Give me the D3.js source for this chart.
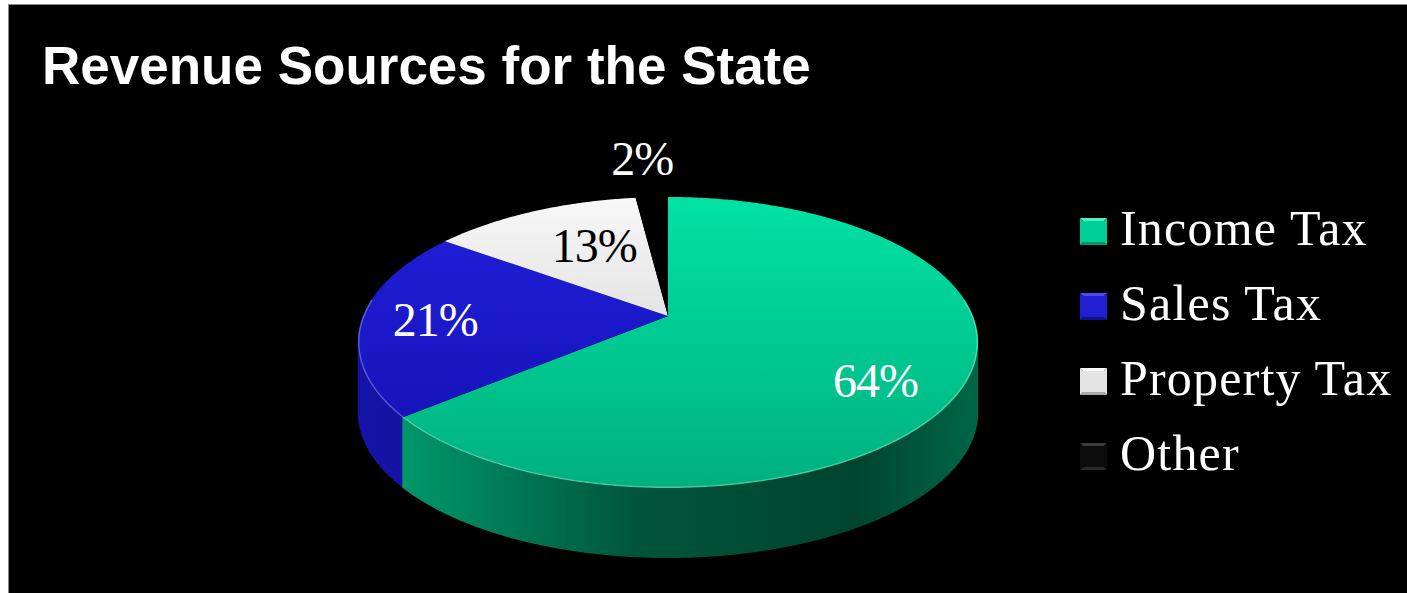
<!DOCTYPE html>
<html>
<head>
<meta charset="utf-8">
<script src="https://cdn.jsdelivr.net/npm/d3@7"></script>
<style>
  html, body { margin: 0; padding: 0; background: #fff; }
  svg { display: block; }
</style>
</head>
<body>
<div id="chart"></div>
<script>
// Revenue sources - 3D pie drawn with d3.pie + a small perspective projection

const categories = ["Income Tax", "Sales Tax", "Property Tax", "Other"];
const shares = [64, 21, 13, 2];
const labelTexts = ["64%", "21%", "13%", "2%"];

const width = 1407, height = 593;

// look of each slice: top face gradient, side gradient
const palette = [
    { top: ["#00e3a4", "#00b07e"], side: ["#00a474", "#00553c", "#00442f", "#006648"], text: "#fff" },
    { top: ["#2020dc", "#1410b2"], side: ["#1614a8", "#0e0e86", "#0c0c70", "#10108c"], text: "#fff" },
    { top: ["#f8f8f8", "#c6c6c6"], side: ["#bdbdbd", "#8a8a8a", "#707070", "#8a8a8a"], text: "#000" },
    { top: ["#000000", "#000000"], side: ["#000", "#000", "#000", "#000"], text: "#fff" }
];

// projection of the tilted disc
const cx = 668, cy = 316, A = 305, B = 140.7, K = 0.182, depth = 70;
function proj(t, f, dz) {
    const x = f * Math.sin(t), z = -f * Math.cos(t);
    const d = 1 - K * z;
    return [cx + A * x / d, cy + B * z / d + (dz || 0)];
}

// label placement along the slice mid angle (radius factor, nudges)
const labelLayout = [
    { f: 0.72, dx: -3, dy: 19 },
    { f: 0.76, dx: 0, dy: 0 },
    { f: 0.52, dx: 1, dy: -12 },
    { f: 1.35, dx: -5, dy: -5 }
];

const svg = d3.select("#chart").append("svg")
    .attr("width", width)
    .attr("height", height);

const defs = svg.append("defs");

svg.append("rect")
    .attr("x", 8.5).attr("y", 4.5)
    .attr("width", width - 8).attr("height", height - 4)
    .attr("fill", "#000")
    .attr("stroke", "#8a8a8a");

svg.append("text")
    .attr("x", 42).attr("y", 84)
    .attr("fill", "#fff")
    .style("font-family", "'Liberation Sans', Arial, sans-serif")
    .style("font-weight", "bold")
    .style("font-size", "53px")
    .text("Revenue Sources for the State");

const pie = d3.pie().sort(null).startAngle(0).endAngle(2 * Math.PI);
const arcs = pie(shares);

// gradients
palette.forEach((p, i) => {
    const gt = defs.append("linearGradient")
        .attr("id", "top" + i)
        .attr("gradientUnits", "userSpaceOnUse")
        .attr("x1", 0).attr("y1", 196).attr("x2", 0).attr("y2", 490);
    gt.append("stop").attr("offset", "0%").attr("stop-color", p.top[0]);
    gt.append("stop").attr("offset", "100%").attr("stop-color", p.top[1]);

    const gs = defs.append("linearGradient")
        .attr("id", "side" + i)
        .attr("gradientUnits", "userSpaceOnUse")
        .attr("x1", 358).attr("y1", 0).attr("x2", 978).attr("y2", 0);
    gs.append("stop").attr("offset", "0%").attr("stop-color", p.side[0]);
    gs.append("stop").attr("offset", "45%").attr("stop-color", p.side[1]);
    gs.append("stop").attr("offset", "80%").attr("stop-color", p.side[2]);
    gs.append("stop").attr("offset", "100%").attr("stop-color", p.side[3]);
});

const line = d3.line();

function arcPoints(a0, a1, f, dz) {
    const n = Math.max(2, Math.ceil((a1 - a0) / 0.01));
    return d3.range(n + 1).map(j => proj(a0 + (a1 - a0) * j / n, f, dz));
}

// visible front band of the side wall
const frontStart = Math.acos(-K);
const frontEnd = 2 * Math.PI - frontStart;

const sides = svg.append("g");
arcs.forEach((a, i) => {
    const s0 = Math.max(a.startAngle, frontStart);
    const s1 = Math.min(a.endAngle, frontEnd);
    if (s1 <= s0) return;
    const topEdge = arcPoints(s0, s1, 1, 0);
    const botEdge = arcPoints(s0, s1, 1, depth).reverse();
    sides.append("path")
        .attr("d", line(topEdge.concat(botEdge)) + "Z")
        .attr("fill", `url(#side${i})`);
});

const tops = svg.append("g");
arcs.forEach((a, i) => {
    const pts = [[cx, cy]].concat(arcPoints(a.startAngle, a.endAngle, 1, 0));
    tops.append("path")
        .attr("d", line(pts) + "Z")
        .attr("fill", `url(#top${i})`);
});

// soft highlight on the front rim
arcs.forEach((a, i) => {
    if (i === 3) return;
    const s0 = Math.max(a.startAngle, frontStart - 0.3);
    const s1 = Math.min(a.endAngle, frontEnd + 0.3);
    if (s1 <= s0) return;
    tops.append("path")
        .attr("d", line(arcPoints(s0, s1, 0.997, 0)))
        .attr("fill", "none")
        .attr("stroke", "rgba(255,255,255,0.28)")
        .attr("stroke-width", 1.5);
});

// data labels
const labelFont = "'Palatino Linotype', 'Book Antiqua', Palatino, 'Liberation Serif', serif";
svg.append("g").selectAll("text")
    .data(arcs)
    .join("text")
    .attr("x", (d, i) => proj((d.startAngle + d.endAngle) / 2, labelLayout[i].f)[0] + labelLayout[i].dx)
    .attr("y", (d, i) => proj((d.startAngle + d.endAngle) / 2, labelLayout[i].f)[1] + labelLayout[i].dy)
    .attr("dy", "0.34em")
    .attr("text-anchor", "middle")
    .attr("fill", (d, i) => palette[i].text)
    .style("font-family", labelFont)
    .style("font-size", "48px")
    .style("letter-spacing", "-1px")
    .text((d, i) => labelTexts[i]);

// legend
const markerColors = [
    { top: "#4ff0c0", mid: "#00d097", bot: "#009a6c" },
    { top: "#4a4af0", mid: "#2020d0", bot: "#10108a" },
    { top: "#ffffff", mid: "#e4e4e4", bot: "#a8a8a8" },
    { top: "#3a3a3a", mid: "#0c0c0c", bot: "#2a2a2a" }
];
const legend = svg.append("g").attr("transform", "translate(1080, 245)");
const rowGap = 75, box = 27;

const rows = legend.selectAll("g")
    .data(categories)
    .join("g")
    .attr("transform", (d, i) => `translate(0, ${i * rowGap})`);

rows.each(function (d, i) {
    const g = d3.select(this);
    const c = markerColors[i];
    const y0 = -box, y1 = 0, x0 = 0, x1 = box, mx = box / 2, my = -box / 2;
    g.append("path").attr("d", line([[x0, y0], [x1, y0], [mx, my]]) + "Z").attr("fill", c.top);
    g.append("path").attr("d", line([[x0, y1], [x1, y1], [mx, my]]) + "Z").attr("fill", c.bot);
    g.append("path").attr("d", line([[x0, y0], [x0, y1], [mx, my]]) + "Z").attr("fill", c.mid);
    g.append("path").attr("d", line([[x1, y0], [x1, y1], [mx, my]]) + "Z").attr("fill", c.mid);
    g.append("rect").attr("x", 3).attr("y", y0 + 3).attr("width", box - 6).attr("height", box - 6).attr("fill", c.mid);
    g.append("text")
        .attr("x", 40).attr("y", 0)
        .attr("fill", "#fff")
        .style("font-family", labelFont)
        .style("font-size", "50px")
        .style("letter-spacing", "1.2px")
        .text(d);
});
</script>
</body>
</html>
